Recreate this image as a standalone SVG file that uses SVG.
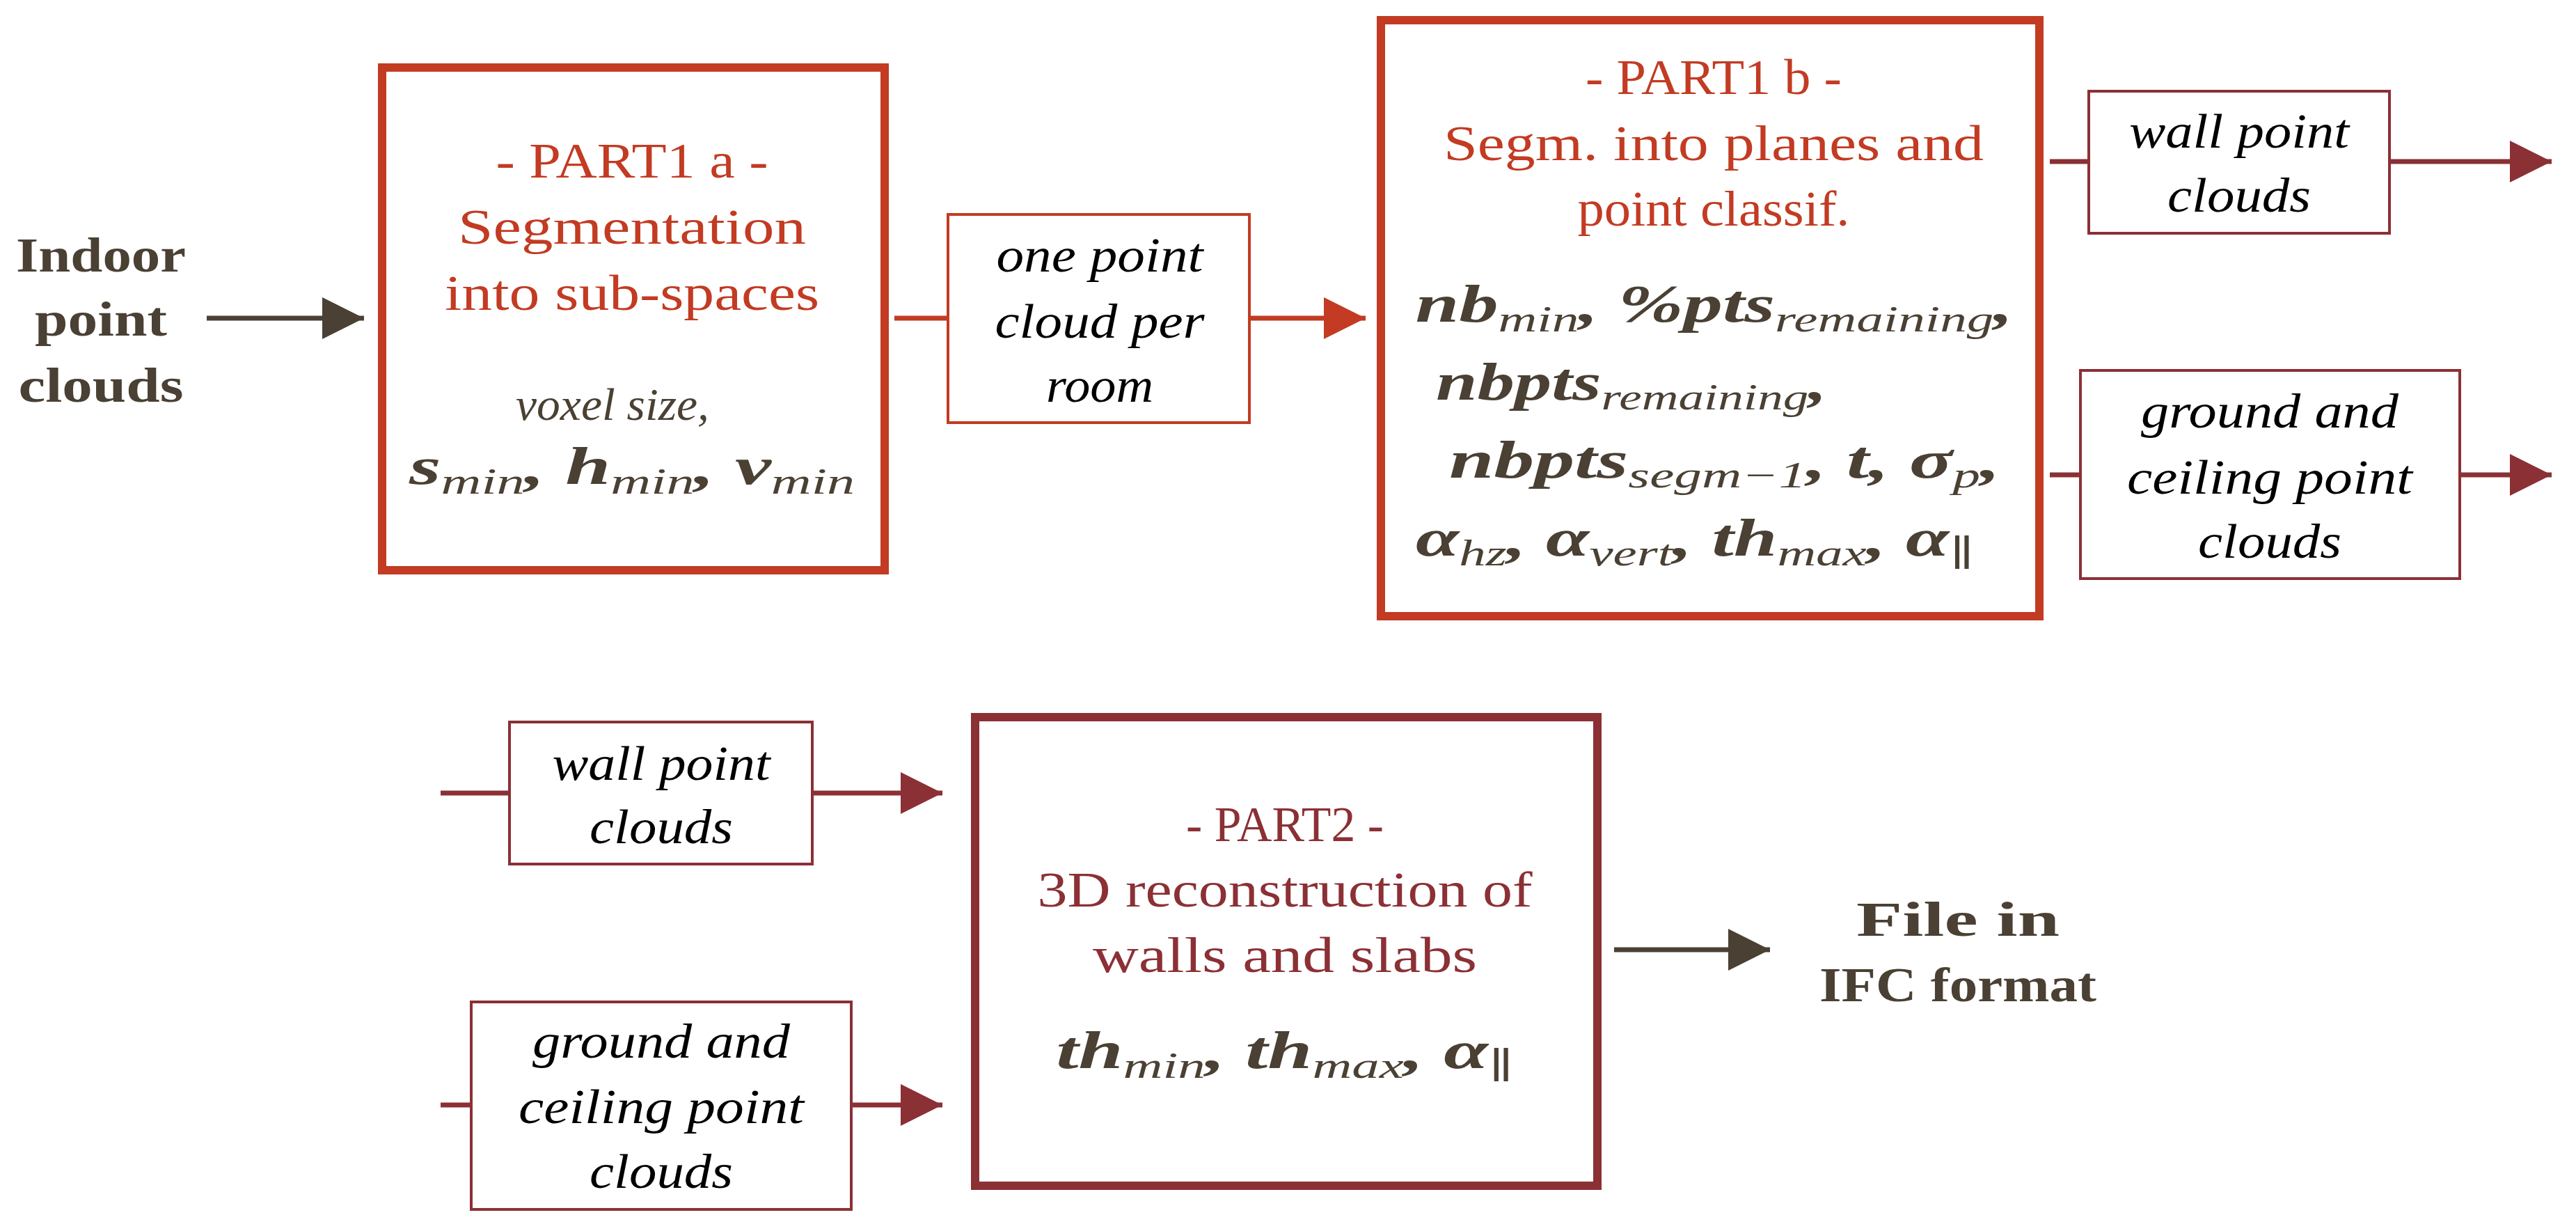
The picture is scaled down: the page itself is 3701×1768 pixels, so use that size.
<svg xmlns="http://www.w3.org/2000/svg" width="3701" height="1768" viewBox="0 0 3701 1768">
<style>
text{font-family:"Liberation Serif","DejaVu Serif",serif;text-anchor:middle}
.io{font-size:70px;font-weight:bold;fill:#4a4033}
.r{font-size:72px;fill:#c23b22}
.dr{font-size:72px;fill:#8b3035}
.it{font-size:70px;font-style:italic;fill:#000}
.f{font-size:76px;font-style:italic;font-weight:bold;fill:#4a4033}
.s{font-size:52px;font-weight:normal}
.g{font-size:66px;font-style:italic;fill:#4a4033}
.big{fill:none;stroke-width:12}
.sm{fill:#fff;stroke-width:4}
</style>
<defs>
<marker id="ad" viewBox="0 0 10 10" refX="10" refY="5" markerWidth="66" markerHeight="60" markerUnits="userSpaceOnUse" orient="auto"><path d="M0,0L10,5L0,10z" fill="#4a4033"/></marker>
<marker id="ar" viewBox="0 0 10 10" refX="10" refY="5" markerWidth="66" markerHeight="60" markerUnits="userSpaceOnUse" orient="auto"><path d="M0,0L10,5L0,10z" fill="#c23b22"/></marker>
<marker id="am" viewBox="0 0 10 10" refX="10" refY="5" markerWidth="66" markerHeight="60" markerUnits="userSpaceOnUse" orient="auto"><path d="M0,0L10,5L0,10z" fill="#8b3035"/></marker>
</defs>
<g id="connectors" stroke-width="7" fill="none">
<line x1="297" y1="457" x2="523" y2="457" stroke="#4a4033" marker-end="url(#ad)"/>
<line x1="1285" y1="457" x2="1362" y2="457" stroke="#c23b22"/>
<line x1="1795" y1="457" x2="1962" y2="457" stroke="#c23b22" marker-end="url(#ar)"/>
<line x1="2945" y1="232" x2="3001" y2="232" stroke="#8b3035"/>
<line x1="3433" y1="232" x2="3666" y2="232" stroke="#8b3035" marker-end="url(#am)"/>
<line x1="2945" y1="682" x2="2989" y2="682" stroke="#8b3035"/>
<line x1="3534" y1="682" x2="3666" y2="682" stroke="#8b3035" marker-end="url(#am)"/>
<line x1="633" y1="1139" x2="732" y2="1139" stroke="#8b3035"/>
<line x1="1167" y1="1139" x2="1354" y2="1139" stroke="#8b3035" marker-end="url(#am)"/>
<line x1="633" y1="1587" x2="677" y2="1587" stroke="#8b3035"/>
<line x1="1223" y1="1587" x2="1354" y2="1587" stroke="#8b3035" marker-end="url(#am)"/>
<line x1="2319" y1="1364" x2="2543" y2="1364" stroke="#4a4033" marker-end="url(#ad)"/>
</g>
<g id="input">
<text class="io" x="145" y="390" textLength="244" lengthAdjust="spacingAndGlyphs">Indoor</text>
<text class="io" x="145" y="482" textLength="190" lengthAdjust="spacingAndGlyphs">point</text>
<text class="io" x="145" y="577" textLength="237" lengthAdjust="spacingAndGlyphs">clouds</text>
</g>
<g id="part1a">
<rect class="big" x="549" y="97" width="722" height="722" stroke="#c23b22"/>
<text class="r" x="908" y="255" textLength="391" lengthAdjust="spacingAndGlyphs">- PART1 a -</text>
<text class="r" x="908" y="350" textLength="500" lengthAdjust="spacingAndGlyphs">Segmentation</text>
<text class="r" x="908" y="445" textLength="538" lengthAdjust="spacingAndGlyphs">into sub-spaces</text>
<text class="g" x="880" y="603" textLength="278" lengthAdjust="spacingAndGlyphs">voxel size,</text>
<text class="f" x="908" y="695" textLength="640" lengthAdjust="spacingAndGlyphs">s<tspan class="s" dy="14">min</tspan><tspan dy="-14">, h</tspan><tspan class="s" dy="14">min</tspan><tspan dy="-14">, v</tspan><tspan class="s" dy="14">min</tspan></text>
</g>
<g id="onecloud">
<rect class="sm" x="1362" y="308" width="433" height="299" stroke="#c23b22"/>
<text class="it" x="1580" y="390" textLength="297" lengthAdjust="spacingAndGlyphs">one point</text>
<text class="it" x="1580" y="485" textLength="301" lengthAdjust="spacingAndGlyphs">cloud per</text>
<text class="it" x="1580" y="577" textLength="154" lengthAdjust="spacingAndGlyphs">room</text>
</g>
<g id="part1b">
<rect class="big" x="1984" y="29" width="946" height="856" stroke="#c23b22"/>
<text class="r" x="2462" y="135" textLength="368" lengthAdjust="spacingAndGlyphs">- PART1 b -</text>
<text class="r" x="2462" y="230" textLength="776" lengthAdjust="spacingAndGlyphs">Segm. into planes and</text>
<text class="r" x="2462" y="324" textLength="391" lengthAdjust="spacingAndGlyphs">point classif.</text>
<text class="f" x="2463" y="462" textLength="859" lengthAdjust="spacingAndGlyphs">nb<tspan class="s" dy="14">min</tspan><tspan dy="-14">, %pts</tspan><tspan class="s" dy="14">remaining</tspan><tspan dy="-14">,</tspan></text>
<text class="f" x="2344" y="574" textLength="562" lengthAdjust="spacingAndGlyphs">nbpts<tspan class="s" dy="14">remaining</tspan><tspan dy="-14">,</tspan></text>
<text class="f" x="2478" y="686" textLength="792" lengthAdjust="spacingAndGlyphs">nbpts<tspan class="s" dy="14">segm−1</tspan><tspan dy="-14">, t, σ</tspan><tspan class="s" dy="14">p</tspan><tspan dy="-14">,</tspan></text>
<text class="f" x="2435" y="798" textLength="802" lengthAdjust="spacingAndGlyphs">α<tspan class="s" dy="14">hz</tspan><tspan dy="-14">, α</tspan><tspan class="s" dy="14">vert</tspan><tspan dy="-14">, th</tspan><tspan class="s" dy="14">max</tspan><tspan dy="-14">, α</tspan><tspan class="s" dy="14">∥</tspan></text>
</g>
<g id="wall1">
<rect class="sm" x="3001" y="131" width="432" height="204" stroke="#8b3035"/>
<text class="it" x="3217" y="212" textLength="316" lengthAdjust="spacingAndGlyphs">wall point</text>
<text class="it" x="3217" y="304" textLength="206" lengthAdjust="spacingAndGlyphs">clouds</text>
</g>
<g id="ground1">
<rect class="sm" x="2989" y="532" width="545" height="299" stroke="#8b3035"/>
<text class="it" x="3261" y="614" textLength="370" lengthAdjust="spacingAndGlyphs">ground and</text>
<text class="it" x="3261" y="709" textLength="410" lengthAdjust="spacingAndGlyphs">ceiling point</text>
<text class="it" x="3261" y="801" textLength="206" lengthAdjust="spacingAndGlyphs">clouds</text>
</g>
<g id="wall2">
<rect class="sm" x="732" y="1037" width="435" height="204" stroke="#8b3035"/>
<text class="it" x="950" y="1120" textLength="313" lengthAdjust="spacingAndGlyphs">wall point</text>
<text class="it" x="950" y="1211" textLength="206" lengthAdjust="spacingAndGlyphs">clouds</text>
</g>
<g id="ground2">
<rect class="sm" x="677" y="1439" width="546" height="298" stroke="#8b3035"/>
<text class="it" x="950" y="1519" textLength="370" lengthAdjust="spacingAndGlyphs">ground and</text>
<text class="it" x="950" y="1613" textLength="410" lengthAdjust="spacingAndGlyphs">ceiling point</text>
<text class="it" x="950" y="1706" textLength="206" lengthAdjust="spacingAndGlyphs">clouds</text>
</g>
<g id="part2">
<rect class="big" x="1401" y="1030" width="894" height="673" stroke="#8b3035"/>
<text class="dr" x="1846" y="1208" textLength="284" lengthAdjust="spacingAndGlyphs">- PART2 -</text>
<text class="dr" x="1846" y="1302" textLength="711" lengthAdjust="spacingAndGlyphs">3D reconstruction of</text>
<text class="dr" x="1846" y="1396" textLength="552" lengthAdjust="spacingAndGlyphs">walls and slabs</text>
<text class="f" x="1846" y="1534" textLength="657" lengthAdjust="spacingAndGlyphs">th<tspan class="s" dy="14">min</tspan><tspan dy="-14">, th</tspan><tspan class="s" dy="14">max</tspan><tspan dy="-14">, α</tspan><tspan class="s" dy="14">∥</tspan></text>
</g>
<g id="output">
<text class="io" x="2813" y="1344" textLength="292" lengthAdjust="spacingAndGlyphs">File in</text>
<text class="io" x="2813" y="1438" textLength="398" lengthAdjust="spacingAndGlyphs">IFC format</text>
</g>
</svg>
